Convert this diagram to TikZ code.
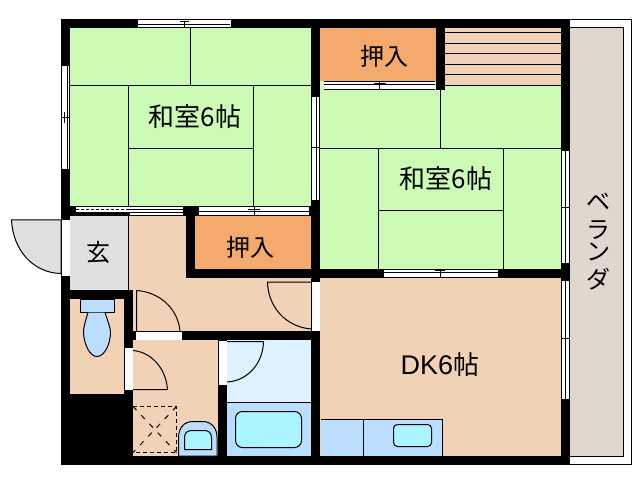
\documentclass[tikz,border=0pt]{standalone}
\usepackage{fontspec}
\setmainfont{Liberation Sans}
\newfontfamily\cjk{Noto Sans CJK JP}
\tikzset{
  x=1bp,y=-1bp,
  wall/.style={fill=black,draw=none},
  thin line/.style={draw=black,line width=1bp},
  mat/.style={thin line},
  lab/.style={inner sep=0pt,font=\cjk\fontsize{24bp}{26bp}\selectfont},
  roomlab/.style={inner sep=0pt,font=\cjk\fontsize{26bp}{28bp}\selectfont},
  winpane/.style={fill=white,draw=none},
  doorarc/.style={draw=black,line width=1bp},
  cyanfix/.style={fill=cyanc,draw=black,line width=1bp},
}
\definecolor{tatami}{HTML}{CBFBB4}
\definecolor{peach}{HTML}{F2D2B6}
\definecolor{closet}{HTML}{F3AA6C}
\definecolor{grayroom}{HTML}{DFE0E2}
\definecolor{veranda}{HTML}{E0D8CF}
\definecolor{bluefix}{HTML}{BBDDFF}
\definecolor{cyanc}{HTML}{AAF5FF}
\definecolor{bath}{HTML}{DDF1FF}
\begin{document}
\begin{tikzpicture}
\useasboundingbox (0,0) rectangle (638,480);
\fill[white] (0,0) rectangle (638,480);
% veranda
\draw[thin line,fill=white] (565,19.5) -- (631.5,19.5) -- (631.5,464) -- (565,464);
\draw[thin line,fill=veranda] (565,27.5) -- (623.5,27.5) -- (623.5,456.5) -- (565,456.5);
% outer black plate
\fill[wall] (61,19) rectangle (570,465);
% rooms
\fill[tatami] (70,28) rectangle (311,206);
\fill[tatami] (320,86) rectangle (561,269);
\fill[tatami] (320,81) rectangle (436,90);
\fill[closet] (320,28) rectangle (436,81);
\fill[peach] (445,28) rectangle (561,86);
\fill[closet] (195,216) rectangle (311.5,269);
\fill[grayroom] (70,216) rectangle (128.5,290);
\fill[peach] (128.5,216) rectangle (186,278);
\fill[peach] (128.5,278) rectangle (311,331);
\fill[peach] (70,299) rectangle (124,394);
\fill[peach] (133,340) rectangle (218,456);
\fill[bath] (227,340) rectangle (311,402);
\fill[bluefix] (227,402) rectangle (311,456);
\fill[peach] (320,278) rectangle (561,456);
% walls between rooms, repainted over the fills
\fill[wall] (311,28) rectangle (320,97);
\fill[wall] (311,200) rectangle (320,281);
\fill[wall] (320,269) rectangle (570,278);
\fill[wall] (436,28) rectangle (445,90);
\fill[wall] (186,206) rectangle (195,278);
\fill[wall] (183,206) rectangle (199,215);
\fill[wall] (186,269) rectangle (320,278);
\fill[wall] (128.5,290) rectangle (133,331);
% stairs
\foreach \yy in {33,44,54,65,75,86}{\draw[mat] (445,\yy) -- (561,\yy);}
% tatami lines room 1
\draw[mat] (190.5,28) -- (190.5,85.5);
\draw[mat] (70,85.5) -- (311,85.5);
\draw[mat] (128.5,85.5) -- (128.5,206);
\draw[mat] (253.5,85.5) -- (253.5,206);
\draw[mat] (128.5,148.5) -- (253.5,148.5);
% tatami lines room 2
\draw[mat] (440.5,90) -- (440.5,148.5);
\draw[mat] (320,148.5) -- (561,148.5);
\draw[mat] (378.5,148.5) -- (378.5,269);
\draw[mat] (503.5,148.5) -- (503.5,269);
\draw[mat] (378.5,210.5) -- (503.5,210.5);
% windows, horizontal
\fill[winpane] (138,19) rectangle (231,28);
\draw[mat] (138,19.5) -- (231,19.5);
\draw[mat] (138,24.5) -- (230,24.5);
\draw[mat] (180,21.5) -- (189,21.5);
\draw[mat] (184.5,21) -- (184.5,28);
\draw[mat] (138,27.5) -- (231,27.5);
\fill[winpane] (76,206) rectangle (183,215);
\draw[mat] (76,206.5) -- (183,206.5);
\draw[mat,dash pattern=on 3bp off 2bp] (76,209.5) -- (129,209.5);
\draw[mat] (129,209.5) -- (183,209.5);
\draw[mat] (76,212.5) -- (183,212.5);
\fill[wall] (70,212.5) rectangle (130,216);
\fill[winpane] (199,206) rectangle (309,215);
\draw[mat] (199,206.5) -- (309,206.5);
\draw[mat] (199,212) -- (309,212);
\draw[mat] (248,209.5) -- (260,209.5);
\draw[mat] (254.5,207) -- (254.5,215);
\fill[winpane] (324,81) rectangle (435,90);
\draw[mat] (324,81.5) -- (435,81.5);
\draw[mat] (324,84.5) -- (435,84.5);
\draw[mat] (324,89.5) -- (435,89.5);
\draw[mat] (374,84) -- (386,84);
\draw[mat] (379.5,81) -- (379.5,90);
\fill[winpane] (384,269) rectangle (498,278);
\draw[mat] (384,269.5) -- (498,269.5);
\draw[mat] (384,272.5) -- (498,272.5);
\draw[mat] (384,277.5) -- (498,277.5);
\draw[mat] (435,270) -- (445,270);
\draw[mat] (440.5,270) -- (440.5,277);
% windows, vertical
\fill[winpane] (61,66) rectangle (70,169);
\draw[mat] (61.5,66) -- (61.5,169);
\draw[mat] (67.5,66) -- (67.5,169);
\draw[mat] (69.5,66) -- (69.5,169);
\draw[mat] (62,117.5) -- (70,117.5);
\draw[mat] (64.5,112) -- (64.5,123);
\fill[winpane] (311,97) rectangle (320,200);
\draw[mat] (311.5,97) -- (311.5,200);
\draw[mat] (316.5,97) -- (316.5,200);
\draw[mat] (319.5,97) -- (319.5,200);
\draw[mat] (312,148) -- (320,148);
\fill[winpane] (561,151) rectangle (570,263);
\draw[mat] (561.5,151) -- (561.5,263);
\draw[mat] (565.5,151) -- (565.5,263);
\draw[mat] (569.5,151) -- (569.5,263);
\draw[mat] (562,208) -- (570,208);
\fill[winpane] (561,281) rectangle (570,399);
\draw[mat] (561.5,281) -- (561.5,399);
\draw[mat] (565.5,281) -- (565.5,399);
\draw[mat] (569.5,281) -- (569.5,399);
\draw[mat] (562,338) -- (570,338);
% door openings
\fill[winpane] (61.5,220) rectangle (70,276);
\fill[winpane] (311.5,282) rectangle (320,331);
\fill[winpane] (136,331.5) rectangle (182,339.5);
\fill[winpane] (124.5,348) rectangle (133,390);
\fill[winpane] (218.5,341) rectangle (227,385);
% entrance door
\fill[wall] (70,290) rectangle (133,299);
\draw[doorarc,fill=grayroom] (61,220) -- (11.5,220) .. controls (13,250) and (33,273) .. (61,273.5) -- cycle;
\draw[mat] (128.5,216) -- (128.5,290);
% doors
\draw[doorarc] (311,282) -- (267.5,282) .. controls (268,308) and (287,327) .. (311,329);
\draw[doorarc] (136.5,331) -- (136.5,290.5) .. controls (160,292) and (178,309) .. (180,331);
\draw[doorarc] (133,350.5) .. controls (151,352) and (166,368) .. (167.5,389.5) -- (133,389.5);
\draw[doorarc] (227,341.5) -- (263.5,341.5) .. controls (263,364) and (247,381) .. (227,382);
% toilet
\draw[mat,fill=bluefix] (80.5,299) rectangle (114.5,312.5);
\draw[mat,fill=bluefix] (88,312.5) .. controls (85,322) and (83.5,328) .. (83.5,332) .. controls (84,345) and (90,356.5) .. (97,356.5) .. controls (104,356.5) and (110.5,345) .. (110.5,332) .. controls (110.5,328) and (108,322) .. (105,312.5);
% bath fittings
\draw[mat] (227,402.5) -- (311,402.5);
\draw[cyanfix,rounded corners=7bp] (235.5,411.5) rectangle (301.5,447.5);
% washroom
\draw[mat,dash pattern=on 4bp off 3bp] (133,406.5) -- (176.5,406.5) -- (176.5,452.5) -- (133,452.5);
\draw[mat,dash pattern=on 5bp off 7bp] (133,406.5) -- (176.5,452.5);
\draw[mat,dash pattern=on 5bp off 7bp] (176.5,406.5) -- (133,452.5);
\draw[mat,fill=bluefix] (178.5,456) -- (178.5,438) .. controls (178.5,428) and (184,421.5) .. (193,421.5) -- (203,421.5) .. controls (211,421.5) and (217,428) .. (217,437) -- (217,456) -- cycle;
\draw[cyanfix] (184.5,449.5) -- (184.5,438) .. controls (184.5,433) and (187,430.5) .. (192,430.5) -- (204,430.5) .. controls (209,430.5) and (211.5,433) .. (211.5,438) -- (211.5,449.5) -- cycle;
% kitchen
\fill[bluefix] (320.5,419.5) rectangle (442.5,456);
\draw[mat] (320.5,419.5) -- (442.5,419.5) -- (442.5,456);
\draw[mat] (363.5,419.5) -- (363.5,456);
\draw[cyanfix,rounded corners=4bp] (393.5,424.5) rectangle (431.5,446.5);
% labels
\node[roomlab] (r1) at (195,117) {和室6帖};
\node[roomlab] (r2) at (446,179) {和室6帖};
\node[lab] (c1) at (384.5,56) {押入};
\node[lab] (c2) at (250,247) {押入};
\node[lab] (g) at (98,252) {玄};
\node[inner sep=0pt,font=\fontsize{27bp}{28bp}\selectfont] (dk) at (440,365) {DK6{\cjk\fontsize{26bp}{28bp}\selectfont 帖}};
\node[lab] (v1) at (598,202) {ベ};
\node[lab] (v2) at (598,230) {ラ};
\node[lab] (v3) at (598,252) {ン};
\node[lab] (v4) at (598,279) {ダ};
\end{tikzpicture}
\end{document}
